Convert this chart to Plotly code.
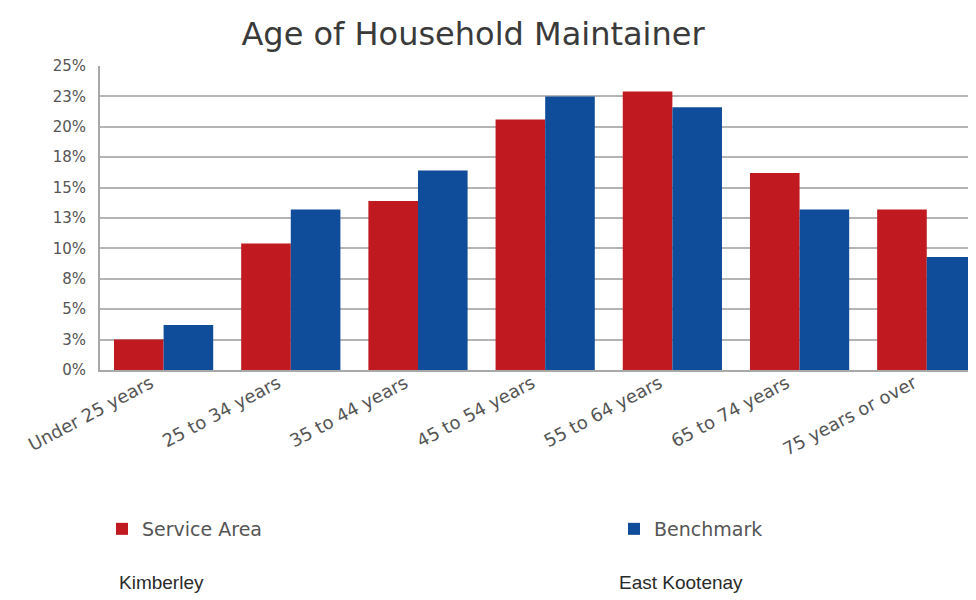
import plotly.graph_objects as go

categories = ["Under 25 years", "25 to 34 years", "35 to 44 years", "45 to 54 years",
              "55 to 64 years", "65 to 74 years", "75 years or over"]
service_area = [2.5, 10.4, 13.9, 20.6, 22.9, 16.2, 13.2]
benchmark = [3.7, 13.2, 16.4, 22.5, 21.6, 13.2, 9.3]
y_tickvals = [0, 2.5, 5, 7.5, 10, 12.5, 15, 17.5, 20, 22.5, 25]
y_ticktext = ["0%", "3%", "5%", "8%", "10%", "13%", "15%", "18%", "20%", "23%", "25%"]

W, H = 976, 600
L, R, T, B = 92, 0, 58, 238
PW, PH = W - L - R, H - T - B


def px_x(px):
    return (px - L) / PW


def px_y(py):
    return (H - B - py) / PH


fig = go.Figure()
fig.add_trace(go.Bar(x=categories, y=service_area, name="Service Area", legend="legend",
                     marker=dict(color="#C0191F", line=dict(width=0))))
fig.add_trace(go.Bar(x=categories, y=benchmark, name="Benchmark", legend="legend2",
                     marker=dict(color="#0F4C9A", line=dict(width=0))))

legend_font = dict(family="DejaVu Sans", size=19, color="#555555")

fig.update_layout(
    width=W, height=H,
    margin=dict(l=L, r=R, t=T, b=B, autoexpand=False),
    paper_bgcolor="white", plot_bgcolor="white",
    barmode="group", bargap=0.22, bargroupgap=0,
    title=dict(text="Age of Household Maintainer", x=465 / W, xanchor="center",
               y=1 - 26 / H, yanchor="middle", xref="container", yref="container",
               font=dict(family="DejaVu Sans", size=32, color="#3a3a3a")),
    font=dict(family="DejaVu Sans", color="#555555"),
    showlegend=True,
    legend=dict(orientation="h", xref="container", yref="container",
                x=94 / W, xanchor="left", y=1 - 521 / H, yanchor="middle",
                font=legend_font, bgcolor="rgba(0,0,0,0)"),
    legend2=dict(orientation="h", xref="container", yref="container",
                 x=606 / W, xanchor="left", y=1 - 521 / H, yanchor="middle",
                 font=legend_font, bgcolor="rgba(0,0,0,0)"),
    xaxis=dict(type="category", range=[-0.5, 6.45], tickangle=-28,
               tickfont=dict(family="DejaVu Sans", size=18, color="#555555"),
               ticklabelshift=-13, ticklabelstandoff=-6,
               showline=True, linecolor="#a8a8a8", linewidth=2, ticks="", showgrid=False),
    yaxis=dict(range=[0, 25], tickvals=y_tickvals, ticktext=y_ticktext,
               tickfont=dict(family="DejaVu Sans", size=15, color="#555555"),
               showline=True, linecolor="#a8a8a8", linewidth=2,
               showgrid=True, gridcolor="#b4b4b4", gridwidth=2,
               ticks="", ticklabelstandoff=9, zeroline=False),
)

fig.add_annotation(text="Kimberley", x=px_x(109), y=px_y(574), xref="paper", yref="paper",
                   xanchor="left", yanchor="middle", showarrow=False,
                   font=dict(family="Liberation Sans", size=19, color="#2a2a2a"))
fig.add_annotation(text="East Kootenay", x=px_x(609), y=px_y(574), xref="paper", yref="paper",
                   xanchor="left", yanchor="middle", showarrow=False,
                   font=dict(family="Liberation Sans", size=19, color="#2a2a2a"))

fig.write_html("out.html")
